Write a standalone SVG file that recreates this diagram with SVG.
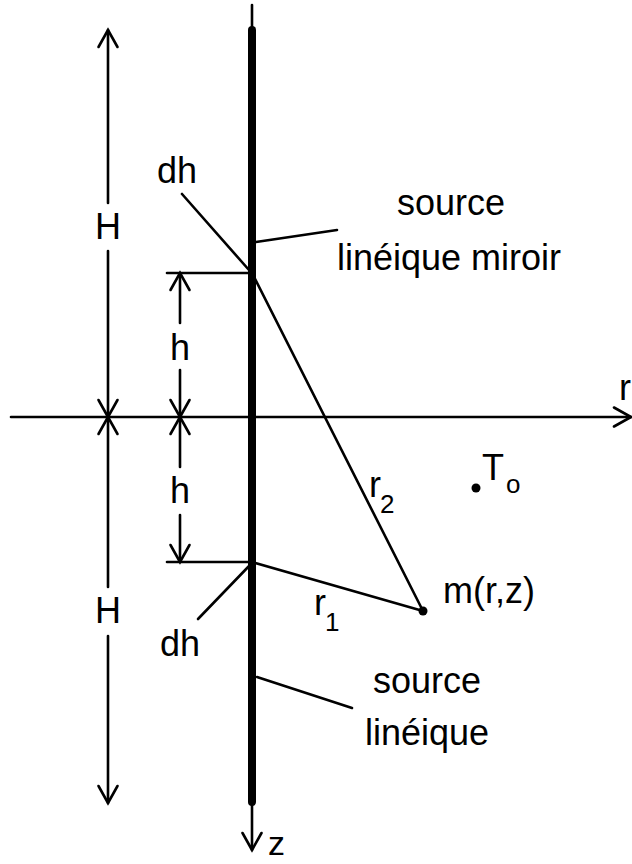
<svg xmlns="http://www.w3.org/2000/svg" width="632" height="864" viewBox="0 0 632 864">
<style>
.ln{stroke:#000;stroke-width:2.6;fill:none;stroke-linecap:round}
.ar{marker-end:url(#a)}
text{font-family:"Liberation Sans",Arial,Helvetica,sans-serif;font-size:36px;fill:#000}
.sub{font-size:26px}
.mid{text-anchor:middle}
</style>
<defs>
<marker id="a" markerUnits="userSpaceOnUse" orient="auto" overflow="visible" markerWidth="1" markerHeight="1" refX="0" refY="0">
<path d="M-17,-9.5 L0,0 L-17,9.5" fill="none" stroke="#000" stroke-width="2.6" stroke-linecap="round" stroke-linejoin="miter"/>
</marker>
</defs>
<rect width="632" height="864" fill="#fff"/>
<g id="axes">
<line class="ln ar" x1="11" y1="417" x2="631" y2="417"/>
<line class="ln ar" x1="252" y1="5" x2="252" y2="850"/>
<text x="619" y="400">r</text>
<text x="268" y="855" style="font-size:34px">z</text>
</g>
<g id="source-line">
<line x1="252" y1="30" x2="252" y2="802" stroke="#000" stroke-width="8" stroke-linecap="round"/>
</g>
<g id="connectors">
<line class="ln ar" x1="108" y1="203" x2="108" y2="30"/>
<line class="ln ar" x1="108" y1="251" x2="108" y2="417"/>
<line class="ln ar" x1="108" y1="587" x2="108" y2="417"/>
<line class="ln ar" x1="108" y1="636" x2="108" y2="803"/>
<line class="ln ar" x1="180" y1="323" x2="180" y2="273"/>
<line class="ln ar" x1="180" y1="370" x2="180" y2="417"/>
<line class="ln ar" x1="180" y1="467" x2="180" y2="417"/>
<line class="ln ar" x1="180" y1="515" x2="180" y2="562"/>
<line class="ln" x1="167" y1="273" x2="252" y2="273"/>
<line class="ln" x1="167" y1="562" x2="252" y2="562"/>
<line class="ln" x1="252" y1="273" x2="423" y2="611"/>
<line class="ln" x1="252" y1="562" x2="423" y2="611"/>
<line class="ln" x1="182" y1="194" x2="249" y2="270"/>
<line class="ln" x1="250" y1="565" x2="198" y2="619"/>
<line class="ln" x1="256" y1="242" x2="337" y2="230"/>
<line class="ln" x1="257" y1="677" x2="352" y2="708"/>
</g>
<g id="labels">
<text class="mid" x="108" y="239">H</text>
<text class="mid" x="108" y="623">H</text>
<text class="mid" x="180" y="360">h</text>
<text class="mid" x="180" y="503">h</text>
<text x="157" y="183">dh</text>
<text x="160" y="656">dh</text>
</g>
<g id="mirror-source-label">
<text class="mid" x="451" y="215">source</text>
<text class="mid" x="449" y="270">linéique miroir</text>
</g>
<g id="source-label">
<text class="mid" x="427" y="693">source</text>
<text class="mid" x="427" y="745">linéique</text>
</g>
<g id="r2-label">
<text x="369" y="497">r</text>
<text class="sub" x="380" y="513">2</text>
</g>
<g id="r1-label">
<text x="314" y="615">r</text>
<text class="sub" x="325" y="631">1</text>
</g>
<g id="point-m">
<circle cx="423" cy="611" r="4.5"/>
<text x="443" y="603">m(r,z)</text>
</g>
<g id="point-T0">
<circle cx="476" cy="488" r="4.5"/>
<text x="482" y="480">T</text>
<text class="sub" x="506" y="493">o</text>
</g>
</svg>
